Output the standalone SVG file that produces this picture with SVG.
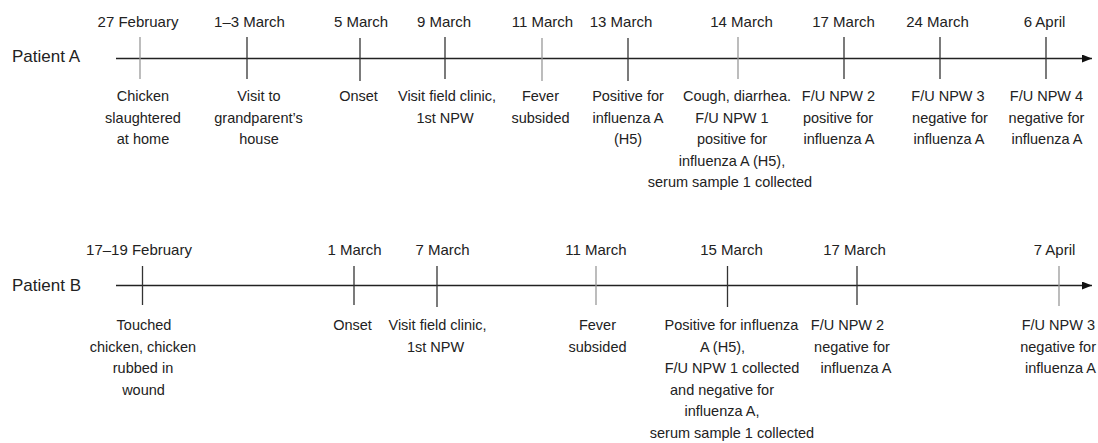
<svg xmlns="http://www.w3.org/2000/svg" width="1098" height="443" viewBox="0 0 1098 443">
<style>
text{font-family:"Liberation Sans",Arial,sans-serif;fill:#222;text-anchor:middle}
.pl{font-size:17px;text-anchor:start}
.d{font-size:15px}
.b{font-size:14.5px}
.e{text-anchor:end}
.axis{stroke:#222;stroke-width:1.4;fill:none}
.t{stroke:#333;stroke-width:1.3}
.tl{stroke:#999;stroke-width:1.3}
</style>
<defs>
<marker id="arr" viewBox="0 0 10 8" refX="10" refY="4" markerWidth="10" markerHeight="8" markerUnits="userSpaceOnUse" orient="auto">
<path d="M0,0 L10,4 L0,8 Z" fill="#111"/>
</marker>
</defs>
<rect width="1098" height="443" fill="#fff"/>
<g id="connectors">
<line class="axis" x1="116" y1="58.5" x2="1092" y2="58.5" marker-end="url(#arr)"/>
<line class="axis" x1="116" y1="285.5" x2="1092" y2="285.5" marker-end="url(#arr)"/>
</g>
<g id="patientA-label"><text class="pl" x="12" y="62">Patient A</text></g>
<g id="patientB-label"><text class="pl" x="12" y="291">Patient B</text></g>

<g id="A-27feb">
<line class="tl" x1="140" y1="37" x2="140" y2="79"/>
<text class="d" x="138" y="27">27 February</text>
<text class="b" x="143" y="101">Chicken</text>
<text class="b" x="143" y="122.5">slaughtered</text>
<text class="b" x="143" y="144">at home</text>
</g>
<g id="A-1-3mar">
<line class="t" x1="247" y1="37" x2="247" y2="79"/>
<text class="d" x="249.5" y="27">1–3 March</text>
<text class="b" x="259" y="101">Visit to</text>
<text class="b" x="258.5" y="122.5">grandparent’s</text>
<text class="b" x="259" y="144">house</text>
</g>
<g id="A-5mar">
<line class="t" x1="360" y1="38" x2="360" y2="81"/>
<text class="d" x="361" y="27">5 March</text>
<text class="b" x="358.5" y="101">Onset</text>
</g>
<g id="A-9mar">
<line class="t" x1="445" y1="37" x2="445" y2="79"/>
<text class="d" x="444" y="27">9 March</text>
<text class="b" x="447" y="101">Visit field clinic,</text>
<text class="b" x="445" y="122.5">1st NPW</text>
</g>
<g id="A-11mar">
<line class="tl" x1="542" y1="38" x2="542" y2="81"/>
<text class="d" x="542.5" y="27">11 March</text>
<text class="b" x="540.5" y="101">Fever</text>
<text class="b" x="540.5" y="122.5">subsided</text>
</g>
<g id="A-13mar">
<line class="t" x1="628" y1="38" x2="628" y2="81"/>
<text class="d" x="621" y="27">13 March</text>
<text class="b" x="628" y="101">Positive for</text>
<text class="b" x="628" y="122.5">influenza A</text>
<text class="b" x="628" y="144">(H5)</text>
</g>
<g id="A-14mar">
<line class="tl" x1="738" y1="37" x2="738" y2="79"/>
<text class="d" x="741.5" y="27">14 March</text>
<text class="b" x="737" y="101">Cough, diarrhea.</text>
<text class="b" x="732" y="122.5">F/U NPW 1</text>
<text class="b" x="732" y="144">positive for</text>
<text class="b" x="732" y="165.5">influenza A (H5),</text>
<text class="b" x="730" y="187">serum sample 1 collected</text>
</g>
<g id="A-17mar">
<line class="t" x1="844" y1="37" x2="844" y2="79"/>
<text class="d" x="843.5" y="27">17 March</text>
<text class="b" x="838.5" y="101">F/U NPW 2</text>
<text class="b" x="838" y="122.5">positive for</text>
<text class="b" x="839" y="144">influenza A</text>
</g>
<g id="A-24mar">
<line class="t" x1="940" y1="37" x2="940" y2="79"/>
<text class="d" x="937.5" y="27">24 March</text>
<text class="b" x="948" y="101">F/U NPW 3</text>
<text class="b" x="950" y="122.5">negative for</text>
<text class="b" x="949" y="144">influenza A</text>
</g>
<g id="A-6apr">
<line class="t" x1="1046" y1="37" x2="1046" y2="79"/>
<text class="d" x="1044.5" y="27">6 April</text>
<text class="b" x="1046.5" y="101">F/U NPW 4</text>
<text class="b" x="1046.5" y="122.5">negative for</text>
<text class="b" x="1047" y="144">influenza A</text>
</g>

<g id="B-17-19feb">
<line class="t" x1="142.5" y1="266" x2="142.5" y2="305"/>
<text class="d" x="139" y="255">17–19 February</text>
<text class="b" x="144" y="330">Touched</text>
<text class="b" x="143" y="351.5">chicken, chicken</text>
<text class="b" x="143" y="373">rubbed in</text>
<text class="b" x="143.5" y="394.5">wound</text>
</g>
<g id="B-1mar">
<line class="t" x1="354" y1="266" x2="354" y2="305"/>
<text class="d" x="354.5" y="255">1 March</text>
<text class="b" x="352.5" y="330">Onset</text>
</g>
<g id="B-7mar">
<line class="t" x1="437" y1="266" x2="437" y2="307"/>
<text class="d" x="442.5" y="255">7 March</text>
<text class="b" x="437.5" y="330">Visit field clinic,</text>
<text class="b" x="435.5" y="351.5">1st NPW</text>
</g>
<g id="B-11mar">
<line class="tl" x1="596" y1="266" x2="596" y2="305"/>
<text class="d" x="596" y="255">11 March</text>
<text class="b" x="597.5" y="330">Fever</text>
<text class="b" x="597.5" y="351.5">subsided</text>
</g>
<g id="B-15mar">
<line class="t" x1="727.5" y1="266" x2="727.5" y2="307"/>
<text class="d" x="731.5" y="255">15 March</text>
<text class="b" x="731.5" y="330">Positive for influenza</text>
<text class="b" x="722.5" y="351.5">A (H5),</text>
<text class="b" x="732" y="373">F/U NPW 1 collected</text>
<text class="b" x="722" y="394.5">and negative for</text>
<text class="b" x="722" y="416">influenza A,</text>
<text class="b" x="732" y="437.5">serum sample 1 collected</text>
</g>
<g id="B-17mar">
<line class="t" x1="857" y1="266" x2="857" y2="305"/>
<text class="d" x="854.5" y="255">17 March</text>
<text class="b" x="847.5" y="330">F/U NPW 2</text>
<text class="b" x="852" y="351.5">negative for</text>
<text class="b" x="856" y="373">influenza A</text>
</g>
<g id="B-7apr">
<line class="tl" x1="1059" y1="266" x2="1059" y2="306"/>
<text class="d" x="1054.5" y="255">7 April</text>
<text class="b e" x="1095" y="330">F/U NPW 3</text>
<text class="b e" x="1096" y="351.5">negative for</text>
<text class="b e" x="1096" y="373">influenza A</text>
</g>
</svg>
